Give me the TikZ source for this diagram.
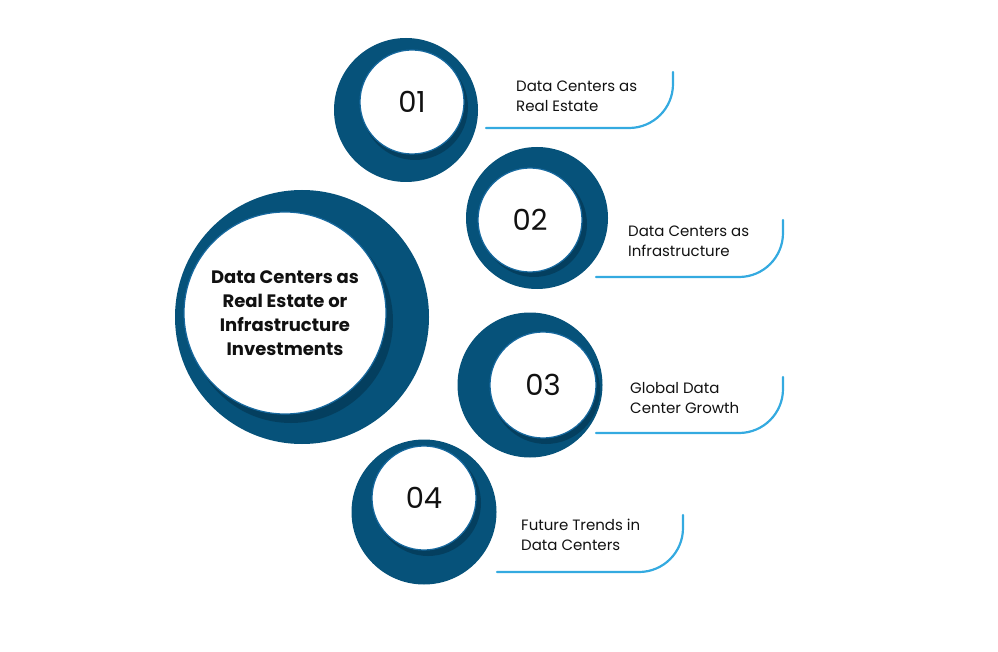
\documentclass[tikz,border=0pt]{standalone}
\usepackage{fontspec}
\setmainfont{Poppins}
\usetikzlibrary{positioning}
\definecolor{navy}{RGB}{6,82,122}
\definecolor{rim}{RGB}{22,104,158}
\definecolor{sky}{RGB}{52,170,224}
\definecolor{ink}{RGB}{17,17,17}

\begin{document}
\begin{tikzpicture}[
  x=1pt, y=-1pt,
  disc/.style={circle, fill=navy, minimum size=#1, inner sep=0pt},
  face/.style={circle, fill=white, draw=rim, line width=1.2pt, minimum size=#1, inner sep=0pt, text=ink, font=\fontsize{29}{30}\selectfont},
  shadow/.style={circle, fill=black, opacity=0.22, minimum size=#1, inner sep=0pt},
  lbl/.style={anchor=west, align=left, inner sep=0pt, text=ink, font=\fontsize{15}{20}\selectfont},
  rail/.style={draw=sky, line width=2.2pt, rounded corners=44pt, line cap=round}
]
\useasboundingbox (0,0) rectangle (998,652);

% centre
\node[disc=254] (hub) at (302,317) {};
\node[shadow=204] at (291,321) {};
\node[face=202, font=\bfseries\fontsize{18}{24}\selectfont, align=center] (core) at (285,313)
  {Data Centers as\\Real Estate or\\Infrastructure\\Investments};

% 01
\node[disc=144] (d1) at (406,110) {};
\node[shadow=106] at (415,107) {};
\node[face=104] (f1) at (412,102) {01};
\node[lbl] (t1) at (516,96) {Data Centers as\\Real Estate};
\coordinate (r1a) at (486,128);
\coordinate (r1b) at (673,72);
\draw[rail] (r1a) -- (r1b |- r1a) -- (r1b);

% 02
\node[disc=142] (d2) at (537,218) {};
\node[shadow=106] at (534,224) {};
\node[face=104] (f2) at (530,220) {02};
\node[lbl] (t2) at (628,241) {Data Centers as\\Infrastructure};
\coordinate (r2a) at (596,277);
\coordinate (r2b) at (783,220);
\draw[rail] (r2a) -- (r2b |- r2a) -- (r2b);

% 03
\node[disc=145] (d3) at (530,385) {};
\node[shadow=108] at (546,390) {};
\node[face=106] (f3) at (543,385) {03};
\node[lbl] (t3) at (630,398) {Global Data\\Center Growth};
\coordinate (r3a) at (596,433);
\coordinate (r3b) at (783,377);
\draw[rail] (r3a) -- (r3b |- r3a) -- (r3b);

% 04
\node[disc=145] (d4) at (424,512) {};
\node[shadow=106] at (428,503) {};
\node[face=104] (f4) at (424,498) {04};
\node[lbl] (t4) at (521,535) {Future Trends in\\Data Centers};
\coordinate (r4a) at (497,572);
\coordinate (r4b) at (683,515);
\draw[rail] (r4a) -- (r4b |- r4a) -- (r4b);
\end{tikzpicture}
\end{document}
